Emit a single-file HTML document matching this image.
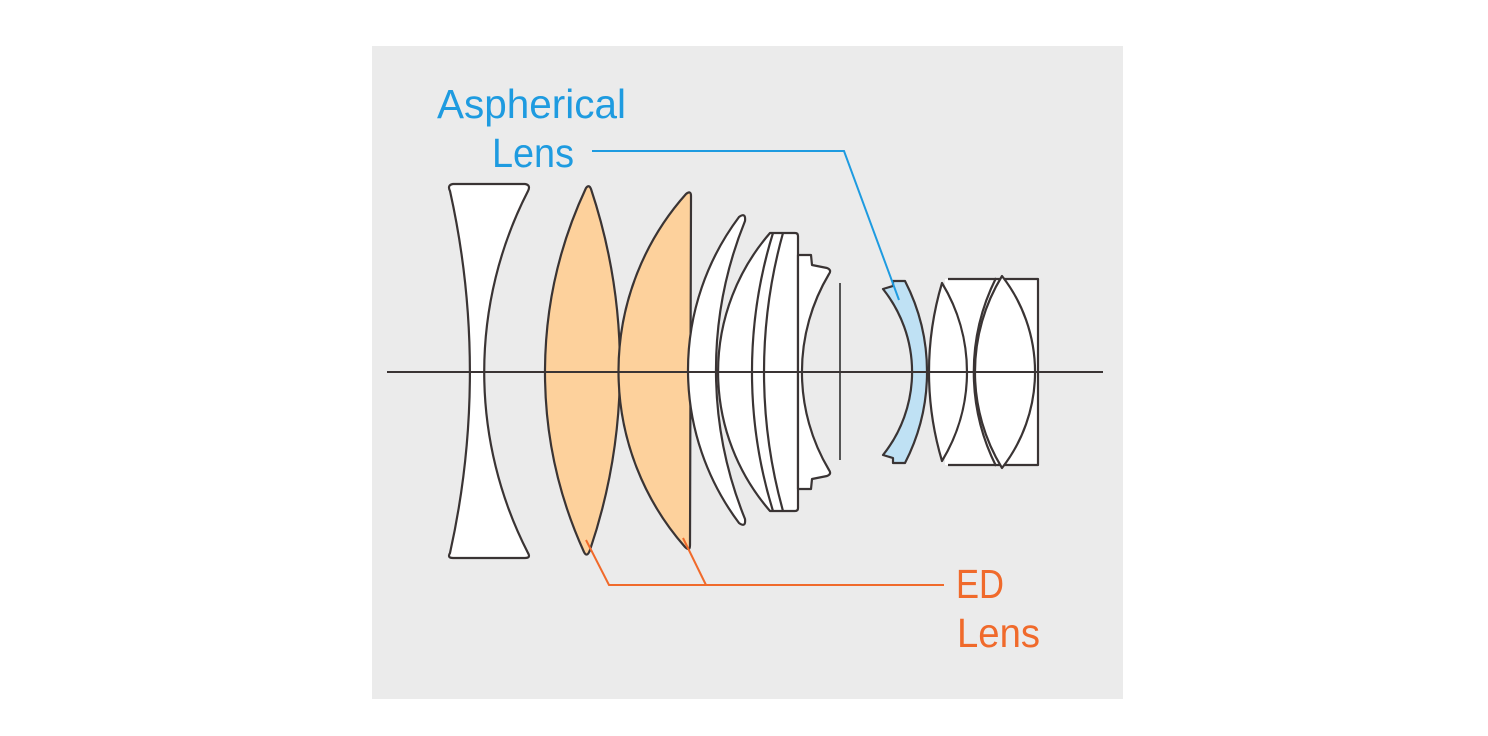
<!DOCTYPE html>
<html><head><meta charset="utf-8"><style>
html,body{margin:0;padding:0;background:#fff;}
svg{display:block;}
text{font-family:"Liberation Sans",sans-serif;font-size:41px;}
</style></head><body>
<svg width="1488" height="736" viewBox="0 0 1488 736" xmlns="http://www.w3.org/2000/svg">
<rect x="0" y="0" width="1488" height="736" fill="#fff"/>
<rect x="372" y="46" width="751" height="653" fill="#ebebeb"/>
<g stroke="#3a3434" stroke-width="2.2" stroke-linejoin="round" fill="#fff">
<path d="M453,184 L525,184 Q531,185 528,191 A396,396 0 0 0 528,553 Q531,558 525,558 L453,558 Q447,558 450,553 A833,833 0 0 0 450,191 Q447,185 453,184 Z"/>
<path fill="#fdd19c" d="M586,188 Q589,184 591,189 A567,567 0 0 1 590,550 Q587,558 584,552 A434,434 0 0 1 586,188 Z"/>
<path fill="#fdd19c" d="M686,194 Q691,190 691,196 L690,545 Q690,552 685,547 A266,266 0 0 1 686,194 Z"/>
<path d="M739,217 Q746,212 745,221 A397,397 0 0 0 745,519 Q746,528 739,523 A255,255 0 0 1 739,217 Z"/>
<path d="M770,233 L795,233 Q798,233 798,236 L798,508 Q798,511 795,511 L770,511 A212,212 0 0 1 770,233 Z"/>
<path fill="none" d="M773,233 A470,470 0 0 0 773,511"/>
<path fill="none" d="M783,233 A518,518 0 0 0 783,511"/>
<path d="M798,255 L811,255 L812,265 L827,268 Q832,270 829,274 A191,191 0 0 0 829,470 Q832,474 827,476 L812,479 L811,489 L798,489 Z"/>
<path fill="#bfe1f4" d="M883,289 L893,286 L893,281 L905,281 A199,199 0 0 1 905,463 L893,463 L893,458 L883,455 A133,133 0 0 0 883,289 Z"/>
<rect x="945" y="279" width="93" height="186" stroke="none"/>
<path fill="none" d="M948,279 L1038,279 L1038,465 L948,465"/>
<path d="M942,283 A311,311 0 0 0 942,461 A171,171 0 0 0 942,283 Z"/>
<path d="M1002,276 A184,184 0 0 0 1002,468 A156,156 0 0 0 1002,276 Z"/>
<path fill="none" d="M996,278 A210,210 0 0 0 996,466"/>
</g>
<line x1="840" y1="283" x2="840" y2="460" stroke="#555" stroke-width="2"/>
<line x1="387" y1="372" x2="1103" y2="372" stroke="#3a3434" stroke-width="2"/>
<polyline points="592,151 844,151 899,300" fill="none" stroke="#1e9be0" stroke-width="2"/>
<polyline points="586,540 609,585 944,585" fill="none" stroke="#f06a2b" stroke-width="2"/>
<line x1="683" y1="538" x2="706" y2="585" stroke="#f06a2b" stroke-width="2"/>
<text x="437" y="118" fill="#1e9be0" textLength="189" lengthAdjust="spacingAndGlyphs">Aspherical</text>
<text x="492" y="167" fill="#1e9be0" textLength="82" lengthAdjust="spacingAndGlyphs">Lens</text>
<text x="956" y="598" fill="#f06a2b" textLength="48" lengthAdjust="spacingAndGlyphs">ED</text>
<text x="957" y="647" fill="#f06a2b" textLength="83" lengthAdjust="spacingAndGlyphs">Lens</text>
</svg>
</body></html>
